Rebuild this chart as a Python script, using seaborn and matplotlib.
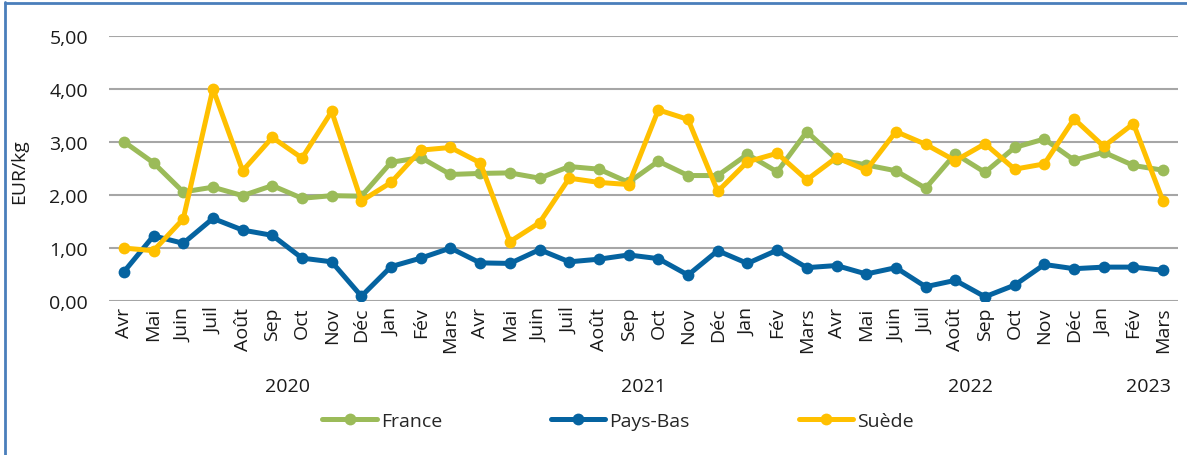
import matplotlib
matplotlib.use("Agg")
import matplotlib.pyplot as plt
from matplotlib.lines import Line2D
from matplotlib import transforms
import numpy as np
import pandas as pd
import seaborn as sns

# Monthly prices, April 2020 - March 2023 (EUR/kg)
months = ["Avr", "Mai", "Juin", "Juil", "Août", "Sep", "Oct", "Nov", "Déc", "Jan", "Fév", "Mars",
          "Avr", "Mai", "Juin", "Juil", "Août", "Sep", "Oct", "Nov", "Déc", "Jan", "Fév", "Mars",
          "Avr", "Mai", "Juin", "Juil", "Août", "Sep", "Oct", "Nov", "Déc", "Jan", "Fév", "Mars"]

france = [3.01, 2.61, 2.06, 2.15, 1.99, 2.18, 1.94, 1.99, 1.98, 2.62, 2.71, 2.39,
          2.41, 2.42, 2.32, 2.54, 2.49, 2.24, 2.64, 2.37, 2.37, 2.77, 2.44, 3.20,
          2.68, 2.57, 2.46, 2.13, 2.78, 2.43, 2.90, 3.06, 2.66, 2.81, 2.56, 2.47]

pays_bas = [0.55, 1.23, 1.09, 1.56, 1.34, 1.24, 0.81, 0.74, 0.09, 0.65, 0.81, 1.00,
            0.72, 0.71, 0.97, 0.74, 0.79, 0.87, 0.80, 0.49, 0.95, 0.71, 0.96, 0.63,
            0.67, 0.51, 0.63, 0.27, 0.39, 0.08, 0.30, 0.69, 0.61, 0.64, 0.64, 0.58]

suede = [1.00, 0.95, 1.55, 4.01, 2.46, 3.09, 2.70, 3.58, 1.89, 2.24, 2.85, 2.90,
         2.61, 1.12, 1.48, 2.32, 2.24, 2.20, 3.61, 3.43, 2.07, 2.63, 2.79, 2.29,
         2.71, 2.47, 3.20, 2.96, 2.65, 2.97, 2.49, 2.59, 3.44, 2.92, 3.35, 1.88]

years = ["2020", "2021", "2022", "2023"]
year_centers = [5.5, 17.5, 28.5, 34.5]

series_names = ["France", "Pays-Bas", "Suède"]
colors = {"France": "#9BBB59", "Pays-Bas": "#0563A0", "Suède": "#FFC000"}

idx = np.arange(len(months))
df = pd.concat([
    pd.DataFrame({"mois": idx, "prix": vals, "pays": name})
    for name, vals in zip(series_names, [france, pays_bas, suede])
], ignore_index=True)

sns.set_theme(style="white")
plt.rcParams["font.family"] = ["Open Sans", "DejaVu Sans"]

fig = plt.figure(figsize=(11.87, 4.56), dpi=100)
ax = fig.add_axes([109 / 1187, 1 - 302 / 456, (1178 - 109) / 1187, (302 - 37.3) / 456])

sns.lineplot(data=df, x="mois", y="prix", hue="pays", hue_order=series_names,
             palette=colors, marker="o", markersize=8.5, markeredgewidth=0,
             linewidth=3.6, ax=ax, legend=False, zorder=3)

ax.set_xlim(-0.5, len(months) - 0.5)
ax.set_ylim(0, 5)
ax.set_yticks(np.arange(0, 6, 1))
ax.set_yticklabels([f"{v:.2f}".replace(".", ",") for v in np.arange(0, 6, 1)], fontsize=14, color="#1a1a1a")
ax.set_xticks(idx)
ax.set_xticklabels(months, rotation=90, fontsize=14, color="#1a1a1a")
ax.tick_params(axis="y", length=0, pad=15)
ax.tick_params(axis="x", length=0, pad=4)
ax.grid(axis="y", color="#A6A6A6", linewidth=1.5)
ax.set_axisbelow(True)
for s in ax.spines.values():
    s.set_visible(False)
ax.set_xlabel("")
ax.set_ylabel("")

# Axis title
fig.text(19 / 1187, 1 - 172 / 456, "EUR/kg", rotation=90, ha="center", va="center",
         fontsize=14, color="#1a1a1a")

# Year labels below the month labels
trans = transforms.blended_transform_factory(ax.transData, fig.transFigure)
for yr, xc in zip(years, year_centers):
    ax.text(xc, 1 - 387 / 456, yr, transform=trans, ha="center", va="center",
            fontsize=14, color="#1a1a1a")

handles = [Line2D([0], [0], color=colors[n], linewidth=3.6, marker="o", markersize=8.5,
                  markeredgewidth=0) for n in series_names]
fig.legend(handles, series_names, loc="center", bbox_to_anchor=(618 / 1187, 1 - 422 / 456),
           ncol=3, frameon=False, fontsize=14, handlelength=2.8, handletextpad=0.2,
           columnspacing=5.6)

# Frame edges on the top and left
fig.add_artist(Line2D([4.5 / 1187, 4.5 / 1187], [0, 1 - 3 / 456], color="#4A7EBB", linewidth=2,
                      transform=fig.transFigure))
fig.add_artist(Line2D([4.5 / 1187, 1], [1 - 3.5 / 456, 1 - 3.5 / 456], color="#4A7EBB", linewidth=2,
                      transform=fig.transFigure))

fig.savefig("out.png", dpi=100)
